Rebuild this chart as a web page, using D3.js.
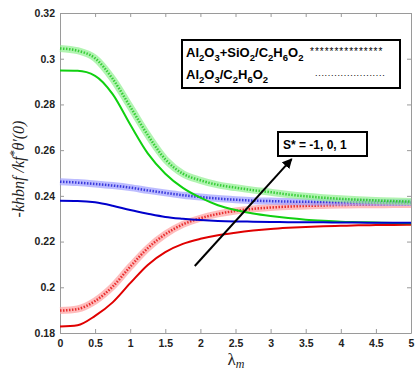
<!DOCTYPE html>
<html lang="en">
<head>
<meta charset="UTF-8">
<title>Nusselt chart</title>
<script src="https://cdn.jsdelivr.net/npm/d3@7"></script>
<style>
    body { margin: 0; background: #fff; }
    svg { font-family: "Liberation Sans", Arial, sans-serif; }
</style>
</head>
<body>
<div id="chart"></div>
<script>
// lambda_m values where the curves were read
var lam = [0, 0.25, 0.5, 0.75, 1, 1.25, 1.5, 1.75, 2, 2.25, 2.5, 2.75, 3, 3.25, 3.5, 3.75, 4, 4.25, 4.5, 4.75, 5];

// hybrid nanofluid (stars)
var greenStar = [0.3045, 0.3035, 0.3002, 0.2912, 0.279, 0.2666, 0.256, 0.2497, 0.2468, 0.2448, 0.2436, 0.2425, 0.2416, 0.2406, 0.2398, 0.2392, 0.2387, 0.2383, 0.238, 0.2377, 0.2375];
var blueStar = [0.2462, 0.2458, 0.2452, 0.2445, 0.2436, 0.2424, 0.2413, 0.2403, 0.2395, 0.2388, 0.2383, 0.2379, 0.2377, 0.2375, 0.2374, 0.2373, 0.2372, 0.2372, 0.2371, 0.2371, 0.2371];
var redStar = [0.1898, 0.1905, 0.194, 0.2003, 0.209, 0.2171, 0.2232, 0.2275, 0.2302, 0.2321, 0.2334, 0.2343, 0.2349, 0.2353, 0.2356, 0.2358, 0.236, 0.2361, 0.2361, 0.2362, 0.2362];
// nanofluid (solid)
var greenLine = [0.2948, 0.2947, 0.2925, 0.2845, 0.2712, 0.2586, 0.2497, 0.2435, 0.2392, 0.2359, 0.2338, 0.2323, 0.2312, 0.2303, 0.2296, 0.2291, 0.2287, 0.2285, 0.2283, 0.2281, 0.228];
var blueLine = [0.2379, 0.2378, 0.2372, 0.2357, 0.2338, 0.2322, 0.2308, 0.23, 0.2294, 0.229, 0.2288, 0.2287, 0.2286, 0.2285, 0.2284, 0.2284, 0.2283, 0.2283, 0.2282, 0.2282, 0.2282];
var redLine = [0.1828, 0.1834, 0.1875, 0.1934, 0.2018, 0.2098, 0.2154, 0.219, 0.2212, 0.2228, 0.2239, 0.2248, 0.2255, 0.226, 0.2264, 0.2267, 0.2269, 0.2271, 0.2272, 0.2273, 0.2274];

var xTicks = [0, 0.5, 1, 1.5, 2, 2.5, 3, 3.5, 4, 4.5, 5];
var yTicks = [0.18, 0.2, 0.22, 0.24, 0.26, 0.28, 0.3, 0.32];

var legendNames = ["Al_2O_3+SiO_2/C_2H_6O_2", "Al_2O_3/C_2H_6O_2"];
var legendMarks = ["***************", "......................"];
var annotation = "S* = -1, 0, 1";
var arrowFrom = [1.92, 0.2093], arrowTo = [3.3, 0.2561];

var margin = { top: 13, left: 60, bottom: 39, right: 6 },
    width = 417 - margin.left - margin.right,
    height = 372 - margin.top - margin.bottom;

var svg = d3.select("#chart").append("svg")
    .attr("width", 417)
    .attr("height", 372);

var g = svg.append("g")
    .attr("transform", "translate(" + margin.left + "," + margin.top + ")");

var x = d3.scaleLinear().domain([0, 5]).range([0, width]);
var y = d3.scaleLinear().domain([0.18, 0.32]).range([height, 0]);

// axes, ticks pointing inwards like matlab
var axisColor = "#9a9a9a";
function styleAxis(sel, showText) {
    sel.select(".domain").attr("stroke", axisColor);
    sel.selectAll(".tick line").attr("stroke", axisColor);
    sel.selectAll(".tick text")
        .attr("fill", "#222")
        .style("font-weight", "bold")
        .style("font-size", "10.5px")
        .style("display", showText ? null : "none");
}

g.append("g").attr("transform", "translate(0," + height + ")")
    .call(d3.axisBottom(x).tickValues(xTicks).tickFormat(d3.format("")).tickSizeInner(-4).tickSizeOuter(0).tickPadding(7))
    .call(styleAxis, true);
g.append("g")
    .call(d3.axisTop(x).tickValues(xTicks).tickSizeInner(-4).tickSizeOuter(0))
    .call(styleAxis, false);
g.append("g")
    .call(d3.axisLeft(y).tickValues(yTicks).tickFormat(d3.format("")).tickSizeInner(-4).tickSizeOuter(0).tickPadding(5))
    .call(styleAxis, true);
g.append("g").attr("transform", "translate(" + width + ",0)")
    .call(d3.axisRight(y).tickValues(yTicks).tickSizeInner(-4).tickSizeOuter(0))
    .call(styleAxis, false);

var line = d3.line()
    .x(function (d) { return x(d[0]); })
    .y(function (d) { return y(d[1]); })
    .curve(d3.curveMonotoneX);

function pts(vals) { return lam.map(function (l, i) { return [l, vals[i]]; }); }

var starSeries = [
    { v: redStar, c: "#e00000", light: "#ffa0a0" },
    { v: blueStar, c: "#1010d0", light: "#a0a0ff" },
    { v: greenStar, c: "#10c010", light: "#90f090" }
];
var solidSeries = [
    { v: redLine, c: "#e00000" },
    { v: greenLine, c: "#10d010" },
    { v: blueLine, c: "#0000cc" }
];

// star curves: soft halo + dense dashes that read as asterisks
starSeries.forEach(function (s) {
    g.append("path").attr("d", line(pts(s.v)))
        .attr("fill", "none").attr("stroke", s.light).attr("stroke-width", 7).attr("stroke-opacity", 0.7);
    g.append("path").attr("d", line(pts(s.v)))
        .attr("fill", "none").attr("stroke", s.c).attr("stroke-width", 2.5)
        .attr("stroke-dasharray", "1.5,1.5").attr("stroke-opacity", 0.75);
});
solidSeries.forEach(function (s) {
    g.append("path").attr("d", line(pts(s.v)))
        .attr("fill", "none").attr("stroke", s.c).attr("stroke-width", 2);
});

// text with _x subscripts
function chem(text, str) {
    var shift = 0;
    str.split(/(_\d)/).forEach(function (part) {
        if (!part) return;
        if (part[0] == "_") {
            text.append("tspan").attr("dy", 4 - shift).style("font-size", "9.5px").text(part.slice(1));
            shift = 4;
        } else {
            text.append("tspan").attr("dy", -shift).text(part);
            shift = 0;
        }
    });
}

// legend box
var lg = svg.append("g").attr("transform", "translate(182,40)");
lg.append("rect").attr("width", 218).attr("height", 48)
    .attr("fill", "#fff").attr("stroke", "#000").attr("stroke-width", 2);
legendNames.forEach(function (n, i) {
    var t = lg.append("text").attr("x", 4).attr("y", 17 + i * 22)
        .style("font-weight", "bold").style("font-size", "13px").attr("fill", "#000");
    chem(t, n);
});
lg.append("text").attr("x", 128).attr("y", 15).style("font-size", "10px")
    .attr("letter-spacing", "1").text(legendMarks[0]);
lg.append("text").attr("x", 133).attr("y", 36).style("font-size", "9px")
    .attr("letter-spacing", "0.7").text(legendMarks[1]);

// S* annotation
var ab = svg.append("g").attr("transform", "translate(278,132)");
ab.append("rect").attr("width", 89).attr("height", 24)
    .attr("fill", "#fff").attr("stroke", "#000").attr("stroke-width", 2);
ab.append("text").attr("x", 5).attr("y", 17)
    .style("font-weight", "bold").style("font-size", "12px").text(annotation);

svg.append("defs").append("marker")
    .attr("id", "head").attr("viewBox", "0 0 10 10").attr("refX", 9).attr("refY", 5)
    .attr("markerWidth", 5).attr("markerHeight", 5).attr("orient", "auto")
    .append("path").attr("d", "M0,0 L10,5 L0,10 Z").attr("fill", "#000");
g.append("line")
    .attr("x1", x(arrowFrom[0])).attr("y1", y(arrowFrom[1]))
    .attr("x2", x(arrowTo[0])).attr("y2", y(arrowTo[1]))
    .attr("stroke", "#000").attr("stroke-width", 2).attr("marker-end", "url(#head)");

// axis labels
var yl = svg.append("text")
    .attr("transform", "translate(24,169) rotate(-90)")
    .attr("text-anchor", "middle")
    .style("font-family", "'Liberation Serif', 'DejaVu Serif', serif")
    .style("font-style", "italic").style("font-size", "16px").attr("fill", "#222");
yl.append("tspan").text("-khbnf /kf");
yl.append("tspan").attr("dy", -6).style("font-size", "12px").text("*");
yl.append("tspan").attr("dy", 6).text("\u03b8\u2032(0)");

var xl = svg.append("text")
    .attr("x", 236).attr("y", 365).attr("text-anchor", "middle")
    .style("font-family", "'Liberation Serif', 'DejaVu Serif', serif")
    .style("font-size", "17px").attr("fill", "#222");
xl.append("tspan").text("\u03bb");
xl.append("tspan").attr("dy", 3).style("font-style", "italic").style("font-size", "12px").text("m");
</script>
</body>
</html>
